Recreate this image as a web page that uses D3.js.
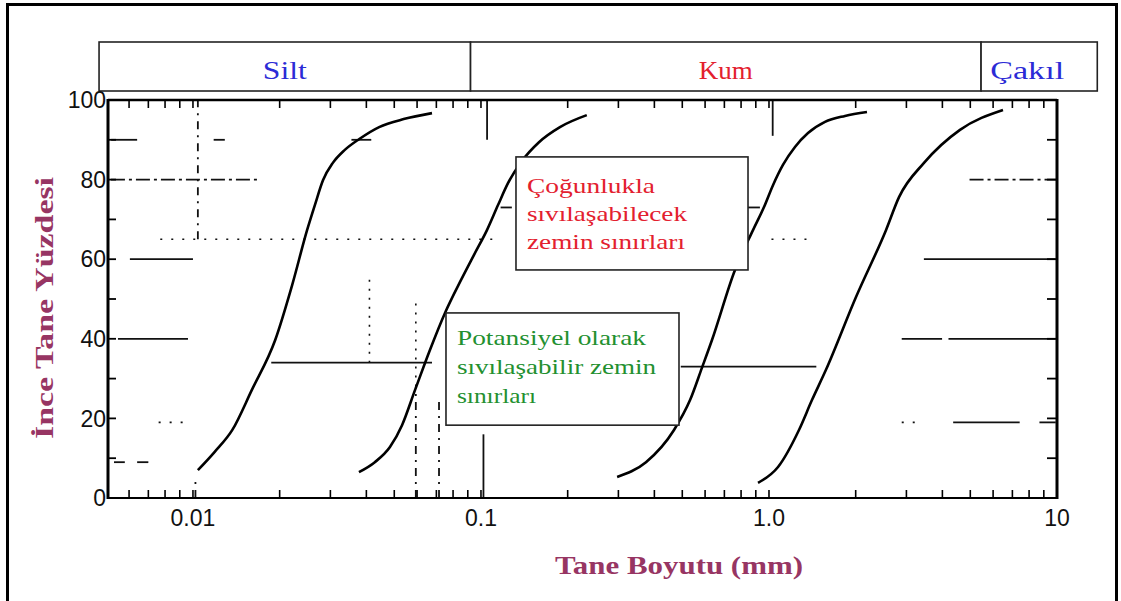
<!DOCTYPE html>
<html><head><meta charset="utf-8">
<script src="https://cdn.jsdelivr.net/npm/d3@7/dist/d3.min.js"></script>
<style>body{margin:0;background:#fff}svg{display:block}</style>
</head><body><svg id="c" width="1121" height="601"></svg>
<script>
// ---------- data ----------
const gradeNames = ["Silt", "Kum", "Çakıl"];
const gradeEdges = [0.00472, 0.092, 5.45, 13.8];          // mm
const yTickValues = [0, 20, 40, 60, 80, 100];
const yTickLabels = ["0", "20", "40", "60", "80", "100"];
const yMinorTicks = [10, 30, 50, 70, 90];
const xTickValues = [0.01, 0.1, 1, 10];
const xTickLabels = ["0.01", "0.1", "1.0", "10"];
const xTitle = "Tane Boyutu (mm)";
const yTitle = "İnce Tane Yüzdesi";
const noteMostly = ["Çoğunlukla", "sıvılaşabilecek", "zemin sınırları"];
const notePotential = ["Potansiyel olarak", "sıvılaşabilir zemin", "sınırları"];
const noteMostlyBox = [0.1323, 0.8456, 85.7, 57.3];      // mm, mm, %, %
const notePotentialBox = [0.0756, 0.487, 46.5, 18.3];

// grain-size boundary curves [mm, % finer]
const curveA = [[0.0104,7.0],[0.0119,11.6],[0.0137,17.1],[0.0160,27.1],[0.0193,39.7],[0.0221,53.5],[0.0249,67.3],[0.0265,73.6],[0.0283,79.9],[0.0306,84.2],[0.0336,87.4],[0.0378,90.2],[0.0443,93.2],[0.0539,95.2],[0.0676,96.7]];
const curveB = [[0.0377,6.5],[0.0428,9.0],[0.0483,12.8],[0.0532,18.3],[0.0590,27.1],[0.0665,37.2],[0.0750,46.5],[0.0846,54.3],[0.0946,61.1],[0.1049,67.3],[0.1146,73.6],[0.1241,79.1],[0.1388,84.7],[0.159,89.4],[0.188,93.2],[0.233,96.2]];
const curveC = [[0.297,5.3],[0.374,9.0],[0.468,17.1],[0.532,24.6],[0.585,32.7],[0.634,39.7],[0.762,57.3],[0.880,67.3],[0.961,73.1],[1.0325,78.6],[1.118,83.7],[1.231,88.2],[1.366,91.7],[1.565,94.5],[1.836,96.0],[2.189,97.0]];
const curveD = [[0.916,3.8],[1.075,7.8],[1.271,17.1],[1.410,24.6],[1.577,32.2],[2.005,50.5],[2.548,67.3],[2.828,75.6],[3.453,84.2],[4.604,92.5],[6.494,97.5]];

// remnants of the scanned grid: horizontal [x1 mm, x2 mm, %], vertical [mm, %1, %2]
const solidH = [[0.00604,0.0100,60],[0.00549,0.00961,40],[0.0187,0.0676,34],[0.494,1.46,33],[3.45,9.9,60],[4.2,9.9,40],[2.89,3.99,40],[4.36,7.42,19],[8.69,9.9,19],[0.0052,0.0064,90],[0.0118,0.0129,90],[0.0355,0.0416,90],[0.117,0.128,73],[0.84,0.93,73],[0.00532,0.0058,9],[0.0064,0.0070,9]];
const dashDotH = [[0.00519,0.0172,80],[4.97,10,80]];
const dottedH = [[0.0077,0.116,65],[1.02,1.39,65],[0.0076,0.0095,19],[2.89,3.39,19]];
const dottedV = [[0.041,34,55],[0.0594,28,50]];
const solidV = [[0.105,90,100],[1.03,91,100],[0.102,0,16]];
const dashedV = [[0.0104,65,100],[0.0102,0,5],[0.0594,0,28],[0.0715,0,25]];

// ---------- drawing ----------
const svg = d3.select("#c");
const x = d3.scaleLog().domain([0.00507, 10]).range([108, 1057]);
const y = d3.scaleLinear().domain([0, 100]).range([498, 100]);
const serif = "'Liberation Serif','Times New Roman',serif";
const sans = "'Liberation Sans',Arial,sans-serif";
const gradeColor = ["#2b2bd6", "#e3202e", "#2b2bd6"];
const gradeTextLen = [44, 54, 74];

svg.append("rect").attr("width",1121).attr("height",601).attr("fill","#fff");
// outer frame
svg.append("rect").attr("x",7.5).attr("y",4.5).attr("width",1109).attr("height",640)
  .attr("fill","none").attr("stroke","#000").attr("stroke-width",3);

// grade band
const band = svg.append("g");
gradeNames.forEach((n,i)=>{
  const x0 = x(gradeEdges[i]), x1 = x(gradeEdges[i+1]);
  band.append("rect").attr("x",x0).attr("y",42).attr("width",x1-x0).attr("height",49)
    .attr("fill","#fff").attr("stroke","#222").attr("stroke-width",1.6);
  band.append("text").attr("x",(x0+x1)/2 + (i===2?-12:0)).attr("y",79).attr("text-anchor","middle")
    .attr("font-family",serif).attr("font-size",26).attr("fill",gradeColor[i])
    .attr("textLength",gradeTextLen[i]).attr("lengthAdjust","spacingAndGlyphs").text(n);
});

// grid remnants
const g = svg.append("g").attr("stroke","#111").attr("fill","none");
solidH.forEach(d=>g.append("line").attr("x1",x(d[0])).attr("x2",x(d[1])).attr("y1",y(d[2])).attr("y2",y(d[2])).attr("stroke-width",1.8));
dashDotH.forEach(d=>g.append("line").attr("x1",x(d[0])).attr("x2",x(d[1])).attr("y1",y(d[2])).attr("y2",y(d[2])).attr("stroke-width",1.8).attr("stroke-dasharray","14,4,3,4"));
dottedH.forEach(d=>g.append("line").attr("x1",x(d[0])).attr("x2",x(d[1])).attr("y1",y(d[2])).attr("y2",y(d[2])).attr("stroke-width",1.6).attr("stroke-dasharray","2,9"));
dottedV.forEach(d=>g.append("line").attr("x1",x(d[0])).attr("x2",x(d[0])).attr("y1",y(d[1])).attr("y2",y(d[2])).attr("stroke-width",1.6).attr("stroke-dasharray","2,7"));
solidV.forEach(d=>g.append("line").attr("x1",x(d[0])).attr("x2",x(d[0])).attr("y1",y(d[1])).attr("y2",y(d[2])).attr("stroke-width",1.8));
dashedV.forEach(d=>g.append("line").attr("x1",x(d[0])).attr("x2",x(d[0])).attr("y1",y(d[1])).attr("y2",y(d[2])).attr("stroke-width",1.8).attr("stroke-dasharray","8,6,2,6"));

// axes frame
const ax = svg.append("g").attr("stroke","#000").attr("fill","none");
ax.append("line").attr("x1",x.range()[0]).attr("x2",x.range()[0]).attr("y1",y(100)-1).attr("y2",y(0)+1).attr("stroke-width",3);
ax.append("line").attr("x1",x.range()[1]).attr("x2",x.range()[1]).attr("y1",y(100)-1).attr("y2",y(0)+1).attr("stroke-width",3);
ax.append("line").attr("x1",x.range()[0]).attr("x2",x.range()[1]).attr("y1",y(100)).attr("y2",y(100)).attr("stroke-width",2.6);
ax.append("line").attr("x1",x.range()[0]).attr("x2",x.range()[1]).attr("y1",y(0)).attr("y2",y(0)).attr("stroke-width",2.2);

// log minor ticks (inward, top and bottom)
const minor = x.ticks().filter(v=>v>x.domain()[0]*1.01 && v<x.domain()[1]*0.99);
minor.forEach(v=>{
  ax.append("line").attr("x1",x(v)).attr("x2",x(v)).attr("y1",y(100)).attr("y2",y(100)+8).attr("stroke-width",1.6);
  ax.append("line").attr("x1",x(v)).attr("x2",x(v)).attr("y1",y(0)).attr("y2",y(0)-8).attr("stroke-width",1.6);
});
// y ticks (inward)
yMinorTicks.concat(yTickValues.slice(1,5)).forEach(v=>{
  ax.append("line").attr("x1",x.range()[0]).attr("x2",x.range()[0]+8).attr("y1",y(v)).attr("y2",y(v)).attr("stroke-width",1.8);
  ax.append("line").attr("x1",x.range()[1]).attr("x2",x.range()[1]-10).attr("y1",y(v)).attr("y2",y(v)).attr("stroke-width",1.8);
});

// tick labels
yTickValues.forEach((v,i)=>{
  svg.append("text").attr("x",x.range()[0]-2).attr("y",y(v)).attr("dy","0.36em").attr("text-anchor","end")
    .attr("font-family",sans).attr("font-size",23).attr("fill","#111").text(yTickLabels[i]);
});
xTickValues.forEach((v,i)=>{
  svg.append("text").attr("x",x(v)).attr("y",526).attr("text-anchor","middle")
    .attr("font-family",sans).attr("font-size",23).attr("fill","#111").text(xTickLabels[i]);
});

// curves
const line = d3.line().x(d=>x(d[0])).y(d=>y(d[1])).curve(d3.curveMonotoneX);
[curveA, curveB, curveC, curveD].forEach(c=>{
  svg.append("path").attr("d",line(c)).attr("fill","none").attr("stroke","#000").attr("stroke-width",2.6);
});

// annotation boxes
function note(box, lines, color, lengths, baselines){
  const x0 = x(box[0]), x1 = x(box[1]), y0 = y(box[2]), y1 = y(box[3]);
  svg.append("rect").attr("x",x0).attr("y",y0).attr("width",x1-x0).attr("height",y1-y0)
    .attr("fill","#fff").attr("stroke","#222").attr("stroke-width",1.6);
  lines.forEach((t,i)=>{
    svg.append("text").attr("x",x0+11).attr("y",y0+baselines[i])
      .attr("font-family",serif).attr("font-size",21).attr("fill",color)
      .attr("textLength",lengths[i]).attr("lengthAdjust","spacingAndGlyphs").text(t);
  });
}
note(noteMostlyBox, noteMostly, "#e3202e", [128,160,158], [36,64,92]);
note(notePotentialBox, notePotential, "#23902f", [189,199,79], [32,61,90]);

// axis titles
svg.append("text").attr("x",679).attr("y",574).attr("text-anchor","middle")
  .attr("font-family",serif).attr("font-weight","bold").attr("font-size",25).attr("fill","#973563")
  .attr("textLength",248).attr("lengthAdjust","spacingAndGlyphs").text(xTitle);
svg.append("text").attr("transform","translate(53,308) rotate(-90)").attr("text-anchor","middle")
  .attr("font-family",serif).attr("font-weight","bold").attr("font-size",25).attr("fill","#973563")
  .attr("textLength",262).attr("lengthAdjust","spacingAndGlyphs").text(yTitle);
</script></body></html>
